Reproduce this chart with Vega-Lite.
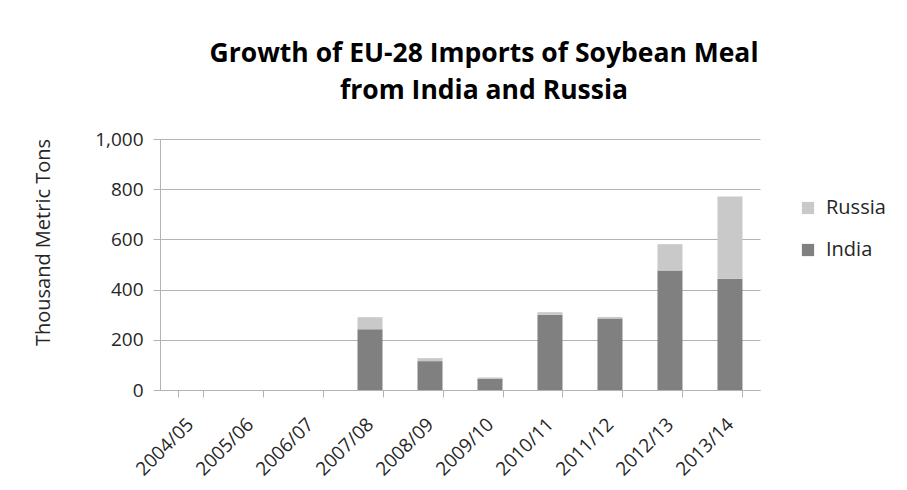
{
  "$schema": "https://vega.github.io/schema/vega-lite/v6.json",
  "width": 600,
  "height": 251,
  "autosize": {"type": "none"},
  "padding": {"left": 160, "top": 139, "right": 147, "bottom": 100},
  "background": "white",
  "title": {
    "text": ["Growth of EU-28 Imports of Soybean Meal", "from India and Russia"],
    "font": "Open Sans",
    "fontSize": 26.5,
    "fontWeight": "bold",
    "color": "#000000",
    "anchor": "middle",
    "frame": "group",
    "dx": 24,
    "lineHeight": 37,
    "offset": 26
  },
  "data": {
    "values": [
      {"year": "2004/05", "country": "India", "value": 0},
      {"year": "2004/05", "country": "Russia", "value": 0},
      {"year": "2005/06", "country": "India", "value": 0},
      {"year": "2005/06", "country": "Russia", "value": 0},
      {"year": "2006/07", "country": "India", "value": 0},
      {"year": "2006/07", "country": "Russia", "value": 0},
      {"year": "2007/08", "country": "India", "value": 242},
      {"year": "2007/08", "country": "Russia", "value": 48},
      {"year": "2008/09", "country": "India", "value": 115},
      {"year": "2008/09", "country": "Russia", "value": 12},
      {"year": "2009/10", "country": "India", "value": 44},
      {"year": "2009/10", "country": "Russia", "value": 6},
      {"year": "2010/11", "country": "India", "value": 300},
      {"year": "2010/11", "country": "Russia", "value": 10},
      {"year": "2011/12", "country": "India", "value": 285},
      {"year": "2011/12", "country": "Russia", "value": 6},
      {"year": "2012/13", "country": "India", "value": 476},
      {"year": "2012/13", "country": "Russia", "value": 105},
      {"year": "2013/14", "country": "India", "value": 443},
      {"year": "2013/14", "country": "Russia", "value": 328}
    ]
  },
  "mark": {"type": "bar"},
  "encoding": {
    "x": {
      "field": "year",
      "type": "nominal",
      "sort": null,
      "scale": {"paddingInner": 0.583, "paddingOuter": 0.292},
      "axis": {
        "title": null,
        "labelAngle": -45,
        "labelAlign": "right",
        "labelBaseline": "middle",
        "labelFont": "Open Sans",
        "labelFontSize": 19,
        "labelColor": "#262626",
        "labelPadding": 24,
        "tickBand": "extent",
        "tickSize": 7,
        "tickColor": "#b3b3b3",
        "domainColor": "#b3b3b3",
        "grid": false
      }
    },
    "y": {
      "field": "value",
      "type": "quantitative",
      "aggregate": "sum",
      "stack": "zero",
      "scale": {"domain": [0, 1000], "nice": false},
      "axis": {
        "title": "Thousand Metric Tons",
        "titleFont": "Open Sans",
        "titleFontSize": 20,
        "titleFontWeight": "normal",
        "titleColor": "#262626",
        "titleAngle": -90,
        "titleX": -117,
        "titleY": 103,
        "titleAlign": "center",
        "titleBaseline": "middle",
        "values": [0, 200, 400, 600, 800, 1000],
        "format": ",d",
        "labelFont": "Open Sans",
        "labelFontSize": 19,
        "labelColor": "#262626",
        "labelPadding": 10,
        "tickSize": 7,
        "tickColor": "#b3b3b3",
        "domainColor": "#b3b3b3",
        "grid": true,
        "gridColor": "#b3b3b3"
      }
    },
    "color": {
      "field": "country",
      "type": "nominal",
      "scale": {"domain": ["Russia", "India"], "range": ["#c9c9c9", "#808080"]},
      "legend": {
        "title": null,
        "orient": "none",
        "legendX": 638,
        "legendY": 59,
        "symbolType": "square",
        "symbolSize": 150,
        "symbolStrokeWidth": 0,
        "labelFont": "Open Sans",
        "labelFontSize": 20,
        "labelColor": "#262626",
        "labelOffset": 8,
        "rowPadding": 22
      }
    },
    "order": {"field": "country", "sort": "ascending"}
  },
  "config": {
    "view": {"stroke": null}
  }
}
